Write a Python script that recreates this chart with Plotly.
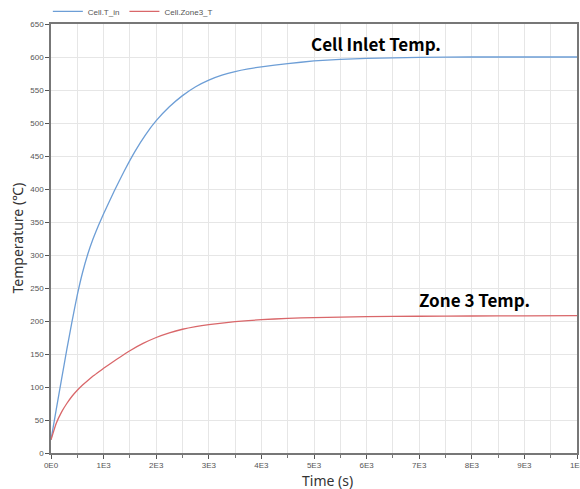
import plotly.graph_objects as go

# Time (s) and temperature readings (°C) from the reference
t_in_time = [0, 100, 200, 300, 400, 500, 600, 700, 800, 900, 1000, 1200, 1400, 1600, 1800,
             2000, 2250, 2500, 2750, 3000, 3250, 3500, 3750, 4000, 4500, 5000, 5500, 6000,
             7000, 8000, 9000, 10000]
t_in_vals = [20, 66, 111.5, 156.5, 199.5, 239.5, 273.5, 301.5, 324.5, 344.5, 362.5, 396.5,
             428.5, 457.5, 482.5, 503.5, 524.5, 541.5, 555, 565, 572.5, 578, 582, 585,
             590, 594, 596.5, 598, 599.5, 600, 600, 600]

zone3_time = [0, 100, 200, 300, 400, 500, 600, 700, 800, 900, 1000, 1250, 1500, 1750, 2000,
              2250, 2500, 2750, 3000, 3500, 4000, 4500, 5000, 6000, 7000, 8000, 9000, 10000]
zone3_vals = [20, 45, 62, 75, 86, 95, 103, 110, 116.5, 122.5, 128.5, 142, 155, 166, 175,
              182, 187.5, 191.5, 194.5, 199, 202, 204, 205.2, 206.5, 207.2, 207.6, 207.8, 208]

x_tickvals = [0, 1000, 2000, 3000, 4000, 5000, 6000, 7000, 8000, 9000, 10000]
x_ticktext = ["0E0", "1E3", "2E3", "3E3", "4E3", "5E3", "6E3", "7E3", "8E3", "9E3", "1E4"]
y_tickvals = list(range(0, 651, 50))

fig = go.Figure()
fig.add_trace(go.Scatter(x=t_in_time, y=t_in_vals, mode="lines", name="Cell.T_in",
                         line=dict(color="#6d9ed6", width=1.3, shape="spline", smoothing=0.4)))
fig.add_trace(go.Scatter(x=zone3_time, y=zone3_vals, mode="lines", name="Cell.Zone3_T",
                         line=dict(color="#d9676a", width=1.3, shape="spline", smoothing=0.4)))

fig.update_layout(
    width=580, height=489,
    margin=dict(l=51, r=3, t=24, b=36, autoexpand=False),
    plot_bgcolor="white", paper_bgcolor="white",
    font=dict(family="Liberation Sans, Arial", size=8, color="#555"),
    showlegend=True,
    legend=dict(orientation="h", x=-0.006, xref="paper", y=1.063, yref="paper",
                xanchor="left", yanchor="top",
                font=dict(size=8, color="#555"), itemwidth=30,
                bgcolor="rgba(0,0,0,0)", tracegroupgap=0),
)

fig.update_xaxes(
    range=[0, 10000], tickvals=x_tickvals, ticktext=x_ticktext, automargin=False,
    ticklabeloverflow="allow",
    showgrid=True, gridcolor="#e6e6e6", gridwidth=1,
    showline=True, linecolor="#777", linewidth=1.5, mirror=True,
    ticks="outside", ticklen=4, tickcolor="#555",
    minor=dict(dtick=500, showgrid=True, gridcolor="#e6e6e6", ticks="outside",
               ticklen=3, tickcolor="#777"),
    zeroline=False, tickfont=dict(size=8, color="#555"),
)
fig.update_yaxes(
    range=[0, 650], tickvals=y_tickvals, automargin=False,
    showgrid=True, gridcolor="#e6e6e6", gridwidth=1,
    showline=True, linecolor="#777", linewidth=1.5, mirror=True,
    ticks="outside", ticklen=4, tickcolor="#555",
    zeroline=False, tickfont=dict(size=8, color="#555"),
)

fig.add_annotation(x=0.525, xref="paper", xanchor="center", y=0, yref="paper",
                   yanchor="middle", yshift=-27, text="Time (s)", showarrow=False,
                   font=dict(family="Noto Sans", size=14, color="#333"))
fig.add_annotation(x=0, xref="paper", xanchor="center", xshift=-34, y=0.5, yref="paper",
                   yanchor="middle", textangle=-90,
                   text="Temperature (℃)", showarrow=False,
                   font=dict(family="Noto Sans", size=14, color="#333"))
fig.add_annotation(x=6180, y=621, text="<b>Cell Inlet Temp.</b>", showarrow=False,
                   font=dict(family="Noto Sans CJK KR", size=17, color="#000"))
fig.add_annotation(x=8060, y=232, text="<b>Zone 3 Temp.</b>", showarrow=False,
                   font=dict(family="Noto Sans CJK KR", size=17, color="#000"))

fig.write_html("out.html", config={"displayModeBar": False})

# remove the default page margin so the figure sits at the window's corner
with open("out.html", "r", encoding="utf-8") as f:
    html = f.read()
html = html.replace("<head>", "<head><style>html,body{margin:0;padding:0;overflow:hidden;}</style>", 1)
with open("out.html", "w", encoding="utf-8") as f:
    f.write(html)
